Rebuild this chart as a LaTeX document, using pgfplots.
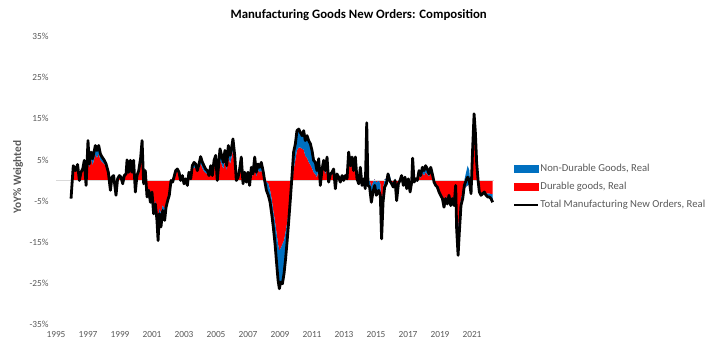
\documentclass[border=0pt]{standalone}
\usepackage{fontspec}
\setmainfont{Carlito}
\usepackage{pgfplots}
\usepackage{pgfplotstable}
\pgfplotsset{compat=1.18}
\usepgfplotslibrary{fillbetween}
\definecolor{ndblue}{RGB}{0,112,192}
\definecolor{dred}{RGB}{255,0,0}
\definecolor{txtgray}{RGB}{89,89,89}
\definecolor{axgray}{RGB}{217,217,217}

\pgfplotstableread{
t tot d nd
1995.94 -4.4 -4.0 -0.4
1996.08 3.6 3.0 0.6
1996.21 2.4 2.2 0.2
1996.35 3.9 3.4 0.5
1996.46 0.0 0.3 -0.3
1996.56 2.0 1.8 0.2
1996.67 2.8 2.4 0.4
1996.77 4.9 4.0 0.9
1996.88 -1.2 -0.8 -0.4
1997.00 9.7 7.5 2.2
1997.08 4.0 3.2 0.8
1997.19 6.9 5.2 1.7
1997.29 5.3 3.8 1.5
1997.46 8.5 6.3 2.2
1997.56 7.3 5.5 1.8
1997.67 8.5 6.5 2.0
1997.77 6.5 5.0 1.5
1997.88 5.7 4.5 1.2
1998.02 4.9 4.0 0.9
1998.13 4.0 3.4 0.6
1998.27 2.0 1.8 0.2
1998.40 -2.4 -2.0 -0.4
1998.50 0.8 0.8 0.0
1998.60 1.2 1.1 0.1
1998.75 -3.6 -3.2 -0.4
1998.85 0.4 0.4 0.0
1998.96 1.2 1.0 0.2
1999.06 0.8 0.6 0.2
1999.17 -0.8 -0.8 0.0
1999.27 1.2 0.9 0.3
1999.38 1.6 1.2 0.4
1999.44 5.0 4.0 1.0
1999.54 2.0 1.5 0.5
1999.65 4.9 3.8 1.1
1999.75 2.0 1.6 0.4
1999.85 4.9 3.9 1.0
1999.96 -2.8 -2.0 -0.8
2000.06 1.2 0.6 0.6
2000.17 2.4 1.6 0.8
2000.29 5.5 4.2 1.3
2000.38 9.7 8.0 1.7
2000.48 -0.8 0.2 -1.0
2000.58 2.4 1.8 0.6
2000.69 -4.0 -3.0 -1.0
2000.79 -2.4 -2.0 -0.4
2000.90 -5.3 -4.3 -1.0
2001.00 -2.8 -2.5 -0.3
2001.10 -8.1 -6.5 -1.6
2001.21 -5.7 -5.0 -0.7
2001.31 -9.7 -7.5 -2.2
2001.38 -14.6 -11.5 -3.1
2001.46 -8.1 -6.8 -1.3
2001.56 -11.3 -8.0 -3.3
2001.67 -7.3 -6.0 -1.3
2001.79 -9.7 -7.0 -2.7
2001.88 -6.5 -5.3 -1.2
2001.98 -4.9 -4.0 -0.9
2002.08 -3.6 -3.0 -0.6
2002.19 0.0 -0.5 0.5
2002.29 -0.4 -0.3 -0.1
2002.40 1.2 0.9 0.3
2002.48 2.4 1.8 0.6
2002.58 2.8 2.2 0.6
2002.69 2.0 1.6 0.4
2002.79 0.0 0.3 -0.3
2002.90 1.2 1.0 0.2
2003.00 -0.8 -0.2 -0.6
2003.10 0.4 0.5 -0.1
2003.21 -1.2 -0.2 -1.0
2003.31 2.0 1.5 0.5
2003.42 0.4 0.6 -0.2
2003.52 3.6 2.6 1.0
2003.63 4.4 3.2 1.2
2003.73 4.0 3.0 1.0
2003.83 2.4 2.0 0.4
2003.94 4.0 3.0 1.0
2004.04 5.8 4.2 1.6
2004.15 4.4 3.0 1.4
2004.25 3.6 2.2 1.4
2004.35 2.8 1.8 1.0
2004.46 2.4 1.6 0.8
2004.56 1.2 1.5 -0.3
2004.67 3.6 2.0 1.6
2004.77 1.2 1.6 -0.4
2004.88 4.9 3.5 1.4
2004.98 6.1 4.0 2.1
2005.08 0.0 1.5 -1.5
2005.19 4.9 3.0 1.9
2005.25 7.7 5.0 2.7
2005.35 6.1 4.0 2.1
2005.46 4.4 2.8 1.6
2005.56 7.3 5.0 2.3
2005.67 3.6 2.5 1.1
2005.77 8.5 6.0 2.5
2005.88 6.1 4.0 2.1
2005.98 8.1 5.8 2.3
2006.06 10.1 7.5 2.6
2006.17 6.1 4.5 1.6
2006.27 0.0 0.5 -0.5
2006.38 0.8 1.0 -0.2
2006.48 2.8 2.0 0.8
2006.58 5.7 4.5 1.2
2006.69 -0.8 0.0 -0.8
2006.79 2.0 1.5 0.5
2006.90 -0.4 0.2 -0.6
2007.00 2.0 1.4 0.6
2007.10 -1.2 -0.5 -0.7
2007.21 3.2 2.2 1.0
2007.31 1.6 1.0 0.6
2007.42 5.7 4.0 1.7
2007.52 2.0 1.0 1.0
2007.63 4.0 2.5 1.5
2007.73 3.2 2.0 1.2
2007.83 4.4 2.5 1.9
2007.94 2.4 1.0 1.4
2008.04 0.0 0.2 -0.2
2008.15 -2.4 -0.3 -2.1
2008.27 -3.6 -0.8 -2.8
2008.38 -5.3 -2.4 -2.9
2008.48 -8.1 -4.5 -3.6
2008.58 -11.3 -7.3 -4.0
2008.69 -15.4 -10.0 -5.4
2008.79 -20.2 -12.9 -7.3
2008.88 -24.3 -15.5 -8.8
2008.96 -26.3 -17.0 -9.3
2009.04 -24.7 -16.5 -8.2
2009.15 -25.1 -15.5 -9.6
2009.25 -22.7 -14.6 -8.1
2009.35 -19.0 -12.5 -6.5
2009.44 -15.0 -10.4 -4.6
2009.54 -10.1 -7.5 -2.6
2009.65 -4.4 -4.5 0.1
2009.75 1.2 -1.2 2.4
2009.85 6.9 2.5 4.4
2009.96 8.9 5.0 3.9
2010.06 12.1 7.3 4.8
2010.17 12.5 8.0 4.5
2010.27 11.7 8.0 3.7
2010.38 10.9 7.7 3.2
2010.48 12.1 7.5 4.6
2010.58 9.7 6.0 3.7
2010.69 10.9 5.5 5.4
2010.79 9.7 4.5 5.2
2010.90 8.9 3.8 5.1
2011.00 7.3 3.0 4.3
2011.10 4.9 2.0 2.9
2011.21 4.4 1.5 2.9
2011.31 2.4 0.8 1.6
2011.42 5.3 3.0 2.3
2011.52 -1.2 -0.8 -0.4
2011.63 2.8 1.8 1.0
2011.73 4.9 3.5 1.4
2011.83 2.4 1.5 0.9
2011.94 5.7 4.0 1.7
2012.04 -0.4 0.3 -0.7
2012.15 1.6 1.0 0.6
2012.25 2.0 1.5 0.5
2012.35 2.8 2.5 0.3
2012.46 -2.0 -1.0 -1.0
2012.56 1.6 1.5 0.1
2012.67 0.8 0.8 0.0
2012.77 -0.4 0.0 -0.4
2012.88 1.2 1.0 0.2
2012.98 0.0 0.3 -0.3
2013.08 1.2 1.0 0.2
2013.19 0.4 0.5 -0.1
2013.29 6.9 6.0 0.9
2013.40 3.6 3.0 0.6
2013.50 5.7 5.0 0.7
2013.60 2.4 2.0 0.4
2013.71 5.7 4.8 0.9
2013.81 0.4 0.6 -0.2
2013.92 -0.8 -0.3 -0.5
2014.02 3.2 2.5 0.7
2014.13 -1.2 -0.5 -0.7
2014.23 0.4 0.5 -0.1
2014.33 -2.0 -1.0 -1.0
2014.42 14.0 13.0 1.0
2014.50 -1.2 0.0 -1.2
2014.60 -1.6 0.0 -1.6
2014.71 -5.3 -1.5 -3.8
2014.81 -2.8 -0.5 -2.3
2014.92 -1.2 0.3 -1.5
2015.02 -3.6 -0.5 -3.1
2015.17 -2.4 0.0 -2.4
2015.27 -3.6 -0.8 -2.8
2015.35 -14.2 -8.5 -5.7
2015.44 -5.3 -2.0 -3.3
2015.54 -1.6 0.3 -1.9
2015.65 -0.8 0.5 -1.3
2015.75 1.6 0.5 1.1
2015.85 0.0 0.0 1.5
2015.98 -0.8 -0.3 -0.5
2016.08 -1.6 -0.5 -1.1
2016.19 0.0 0.0 0.5
2016.29 -4.9 -1.5 -3.4
2016.40 -0.8 0.0 -0.8
2016.50 0.0 0.0 0.3
2016.60 1.2 0.5 0.7
2016.71 -1.2 -0.3 -0.9
2016.81 0.8 0.3 0.5
2016.92 -2.0 -0.5 -1.5
2017.02 0.4 0.3 0.1
2017.13 -2.8 -1.0 -1.8
2017.23 -0.4 0.0 -0.4
2017.29 5.4 4.0 1.4
2017.38 -0.4 0.0 -0.4
2017.48 0.4 0.3 0.1
2017.58 0.0 0.2 -0.2
2017.69 2.4 1.2 1.2
2017.79 1.2 0.6 0.6
2017.90 3.2 1.8 1.4
2018.00 2.4 1.2 1.2
2018.10 3.6 2.0 1.6
2018.21 2.8 1.5 1.3
2018.31 1.6 1.0 0.6
2018.42 3.2 2.0 1.2
2018.52 1.6 1.2 0.4
2018.63 -0.4 -0.2 -0.2
2018.73 -1.2 -1.0 -0.2
2018.83 -1.6 -1.3 -0.3
2018.94 -2.8 -2.3 -0.5
2019.04 -3.6 -3.0 -0.6
2019.15 -4.4 -3.8 -0.6
2019.25 -6.5 -5.5 -1.0
2019.35 -4.4 -3.8 -0.6
2019.46 -5.7 -5.0 -0.7
2019.56 -3.6 -3.2 -0.4
2019.67 -6.1 -5.3 -0.8
2019.77 -4.4 -4.0 -0.4
2019.88 -6.1 -5.3 -0.8
2019.98 -1.2 -1.0 -0.2
2020.04 -11.7 -9.0 -2.7
2020.13 -18.2 -12.5 -5.7
2020.21 -12.5 -8.0 -4.5
2020.31 -6.1 -4.5 -1.6
2020.42 -4.4 -3.0 0.5
2020.52 -1.2 -2.0 2.0
2020.63 0.0 -1.5 3.5
2020.73 0.8 -1.2 4.8
2020.83 0.0 -1.0 3.5
2020.94 -3.2 -3.5 0.8
2021.04 7.7 6.5 1.2
2021.13 16.2 15.5 0.7
2021.21 11.7 11.0 0.7
2021.29 4.4 4.0 0.4
2021.38 0.0 -0.5 0.5
2021.46 -2.8 -2.5 -0.3
2021.56 -3.6 -3.0 -0.6
2021.67 -3.2 -3.0 -0.2
2021.77 -2.8 -3.0 0.2
2021.88 -3.6 -3.2 -0.4
2021.98 -4.0 -3.2 -0.8
2022.08 -4.0 -3.2 -0.8
2022.19 -4.4 -3.3 -1.1
2022.29 -5.3 -3.3 -2.0
}\data

\begin{document}
\begin{tikzpicture}
\begin{axis}[
  at={(42pt,22.9pt)}, anchor=south west,
  scale only axis, width=328.2pt, height=216pt,
  xmin=1995, xmax=2022.35, ymin=-35, ymax=35,
  axis x line*=bottom, axis y line*=left,
  axis line style={draw=none}, tick style={draw=none},
  xtick={1995,1997,1999,2001,2003,2005,2007,2009,2011,2013,2015,2017,2019,2021},
  xticklabels={1995,1997,1999,2001,2003,2005,2007,2009,2011,2013,2015,2017,2019,2021},
  ytick={-35,-25,-15,-5,5,15,25,35},
  yticklabels={-35\%,-25\%,-15\%,-5\%,5\%,15\%,25\%,35\%},
  tick label style={font=\fontsize{7}{8}\selectfont, text=txtgray},
  xticklabel style={yshift=-2pt},
  yticklabel style={xshift=-2pt},
  clip=false,
  legend style={at={(axis description cs:1.044,0.478)}, anchor=west, draw=none, fill=none,
    font=\fontsize{8}{9.5}\selectfont, text=txtgray, row sep=4.5pt, inner sep=0pt,
    nodes={inner sep=1pt}},
  legend cell align=left,
]
\addlegendimage{legend image code/.code={\fill[ndblue] (0pt,-2.4pt) rectangle (18pt,2.4pt);}}
\addlegendentry{Non-Durable Goods, Real}
\addlegendimage{legend image code/.code={\fill[dred] (0pt,-2.4pt) rectangle (18pt,2.4pt);}}
\addlegendentry{Durable goods, Real}
\addlegendimage{legend image code/.code={\draw[black, line width=1.5pt] (0pt,0pt) -- (18pt,0pt);}}
\addlegendentry{Total Manufacturing New Orders, Real}
\addplot[axgray, line width=0.75pt, forget plot] coordinates {(1995,0) (2022.35,0)};
\addplot[draw=none, name path=Z, forget plot] coordinates {(1995.94,0) (2022.29,0)};
\addplot[draw=none, name path=D, forget plot] table[x=t,y=d]{\data};
\addplot[draw=none, name path=S, forget plot] table[x=t,y expr=\thisrow{d}+\thisrow{nd}]{\data};
\addplot[fill=dred, draw=none, forget plot] fill between[of=Z and D];
\addplot[fill=ndblue, draw=none, forget plot] fill between[of=D and S];
\addplot[black, line width=2.1pt, line join=round, forget plot] table[x=t,y=tot]{\data};
\end{axis}
\node[font=\bfseries\fontsize{9.6}{11}\selectfont] at (269pt,255pt) {Manufacturing Goods New Orders: Composition};
\node[rotate=90, font=\bfseries\fontsize{8.5}{10}\selectfont, text=txtgray] at (13.5pt,133.5pt) {YoY\% Weighted};
\pgfresetboundingbox
\useasboundingbox (0,0) rectangle (546pt,266.25pt);
\end{tikzpicture}
\end{document}
